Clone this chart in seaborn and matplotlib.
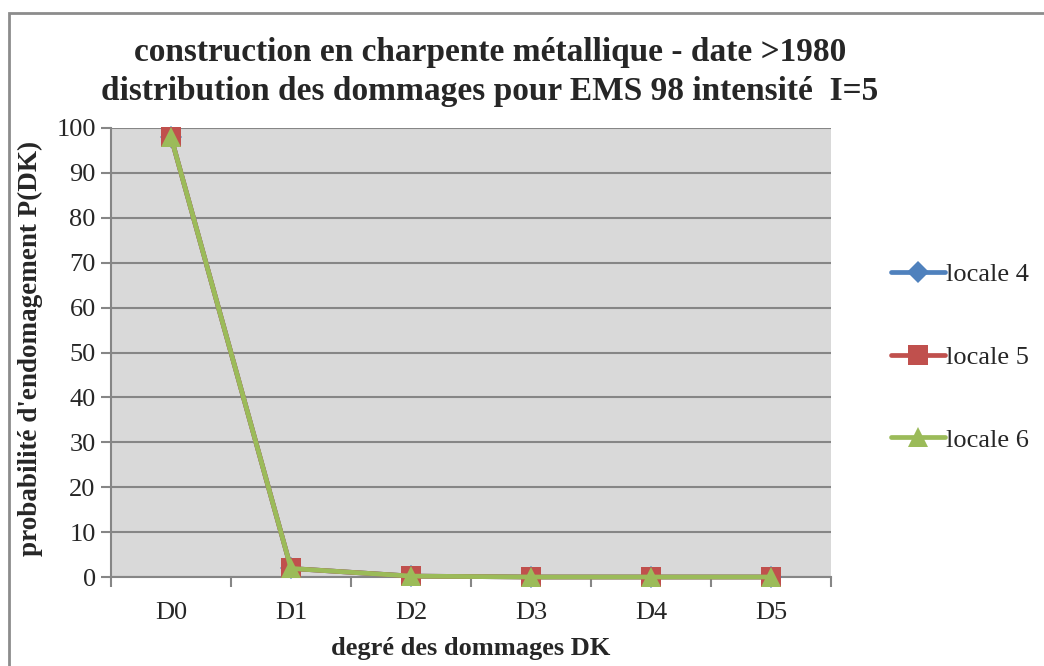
import matplotlib
matplotlib.use("Agg")
import matplotlib.pyplot as plt
import matplotlib.patches as mpatches
import seaborn as sns
import pandas as pd
import numpy as np

# Damage grades and probabilities per locale
grades = ["D0", "D1", "D2", "D3", "D4", "D5"]
locale_4 = [98.0, 1.9, 0.2, 0.0, 0.0, 0.0]
locale_5 = [98.0, 1.9, 0.2, 0.0, 0.0, 0.0]
locale_6 = [98.0, 1.9, 0.2, 0.0, 0.0, 0.0]
series_names = ["locale 4", "locale 5", "locale 6"]

df = pd.DataFrame({
    "grade": grades * 3,
    "x": list(range(len(grades))) * 3,
    "P": locale_4 + locale_5 + locale_6,
    "serie": sum([[n] * len(grades) for n in series_names], []),
})

sns.set_theme(style="white")
plt.rcParams["font.family"] = ["Liberation Serif", "DejaVu Serif"]

FS = 19

fig = plt.figure(figsize=(10.44, 6.66), dpi=100)
ax = fig.add_axes([111 / 1044, 1 - 577 / 666, (831 - 111) / 1044, (577 - 128) / 666])
ax.set_facecolor("#D9D9D9")

palette = {"locale 4": "#4F81BD", "locale 5": "#C0504D", "locale 6": "#9BBB59"}
markers = {"locale 4": "D", "locale 5": "s", "locale 6": "^"}
sizes = {"locale 4": 11, "locale 5": 14, "locale 6": 15}

for name in series_names:
    sub = df[df["serie"] == name]
    sns.lineplot(data=sub, x="x", y="P", ax=ax, color=palette[name],
                 marker=markers[name], markersize=sizes[name],
                 markeredgewidth=0, linewidth=3.4, label=name, legend=False,
                 clip_on=False, zorder=3)

ax.set_xlim(-0.5, len(grades) - 0.5)
ax.set_ylim(0, 100)
ax.set_yticks(np.arange(0, 101, 10))
ax.set_xticks(range(len(grades)))
ax.set_xticklabels(grades)
ax.set_xticks(np.arange(-0.5, len(grades), 1.0), minor=True)

ax.grid(axis="y", color="#868686", linewidth=1.5, zorder=1)
ax.set_axisbelow(True)
for side in ["top", "right"]:
    ax.spines[side].set_visible(False)
for side in ["left", "bottom"]:
    ax.spines[side].set_color("#868686")
    ax.spines[side].set_linewidth(1.5)

ax.tick_params(axis="y", which="major", length=7, width=1.5, color="#868686",
               labelsize=FS, pad=4, left=True)
ax.tick_params(axis="x", which="major", length=0, labelsize=FS, pad=18)
ax.tick_params(axis="x", which="minor", length=7, width=1.5, color="#868686",
               bottom=True)

ax.set_xlabel("degré des dommages DK", fontsize=FS, fontweight="bold", labelpad=9)
ax.set_ylabel("probabilité d'endomagement P(DK)", fontsize=19.5, fontweight="bold")
ax.yaxis.set_label_coords(-0.095, 0.51)

fig.text(490 / 1044, 1 - 72 / 666,
         "construction en charpente métallique - date >1980\n"
         "distribution des dommages pour EMS 98 intensité  I=5",
         ha="center", va="center", fontsize=24, fontweight="bold",
         linespacing=1.3)

handles, labels = ax.get_legend_handles_labels()
leg = fig.legend(handles, labels, loc="center left",
                 bbox_to_anchor=(880 / 1044, 1 - 357 / 666),
                 frameon=False, fontsize=FS, labelspacing=2.25,
                 handlelength=2.05, handletextpad=0.05, borderaxespad=0)

# Chart frame
fig.patches.append(mpatches.Rectangle((9 / 1044, -0.05), 1.2, 1.05 - 13 / 666,
                                      transform=fig.transFigure, fill=False,
                                      edgecolor="#8C8C8C", linewidth=2))

fig.savefig("out.png", dpi=100)
